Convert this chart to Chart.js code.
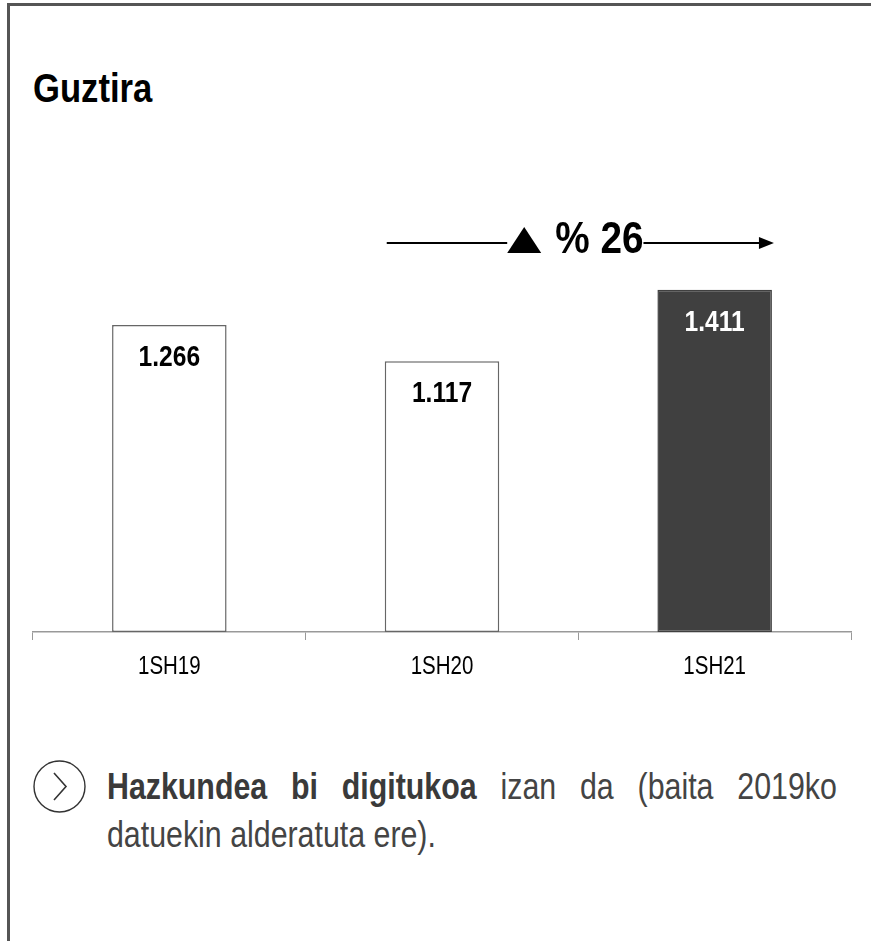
<!DOCTYPE html>
<html>
<head>
<meta charset="utf-8">
<script src="https://cdn.jsdelivr.net/npm/chart.js@4.4.1/dist/chart.umd.min.js"></script>
<style>
  body { margin: 0; width: 871px; height: 941px; background: #fff; overflow: hidden; position: relative; font-family: "Liberation Sans", Arial, sans-serif; }
  #frame { position: absolute; left: 7px; top: 3px; width: 900px; height: 1000px; border-left: 3px solid #555; border-top: 3px solid #555; }
  #titulo { position: absolute; left: 33px; top: 64px; font-size: 41px; line-height: 48px; font-weight: bold; color: #000; transform: scaleX(0.845); transform-origin: 0 0; white-space: nowrap; }
  #grafico-box { position: absolute; left: 0; top: 180px; width: 871px; height: 520px; }
  #nota { position: absolute; left: 107px; top: 763px; width: 890px; font-size: 37px; line-height: 48px; color: #444; text-align: justify; transform: scaleX(0.82); transform-origin: 0 0; }
  #nota b { color: #3a3a3a; }
  #bala { position: absolute; left: 33px; top: 760px; }
</style>
</head>
<body>
<div id="frame"></div>
<div id="titulo">Guztira</div>
<div id="grafico-box"><canvas id="grafico"></canvas></div>
<svg id="bala" width="54" height="54" viewBox="0 0 54 54">
  <circle cx="26.5" cy="26.5" r="25.5" fill="none" stroke="#333" stroke-width="1.4"/>
  <polyline points="21,13 33,26.5 21,40" fill="none" stroke="#333" stroke-width="1.6"/>
</svg>
<div id="nota"><b>Hazkundea bi digitukoa</b> izan da (baita 2019ko datuekin alderatuta ere).</div>

<script>
// datos
const periodos = ["1SH19", "1SH20", "1SH21"];
const valores = [1266, 1117, 1411];
const etiquetas = ["1.266", "1.117", "1.411"];
const crecimiento = "% 26";

const fuente = '"Liberation Sans", Arial, sans-serif';
const estrecho = 0.82; // simula Arial Narrow

function textoEstrecho(ctx, txt, x, y, escala) {
  ctx.save();
  ctx.translate(x, y);
  ctx.scale(escala, 1);
  ctx.fillText(txt, 0, 0);
  ctx.restore();
}

// etiquetas del eje, dentro de las barras y flecha de crecimiento
const extras = {
  id: "extras",
  afterDraw(chart) {
    const ctx = chart.ctx;
    const meta = chart.getDatasetMeta(0);
    const xs = chart.scales.x;
    ctx.save();

    // etiquetas del eje x
    ctx.font = "25px " + fuente;
    ctx.textAlign = "center";
    ctx.textBaseline = "middle";
    ctx.fillStyle = "#000";
    periodos.forEach((p, i) => {
      textoEstrecho(ctx, p, xs.getPixelForValue(i), chart.chartArea.bottom + 35, estrecho);
    });

    // valores dentro de las barras
    ctx.font = "bold 30px " + fuente;
    meta.data.forEach((bar, i) => {
      ctx.fillStyle = i === 2 ? "#fff" : "#000";
      textoEstrecho(ctx, etiquetas[i], bar.x, bar.y + 33, estrecho);
    });

    // flecha
    const b1 = meta.data[1];
    const b2 = meta.data[2];
    const x0 = b1.x - b1.width / 2 + 2;
    const x1 = b2.x + b2.width / 2 + 2;
    const y = chart.chartArea.top - 1;
    const base = y + 10;
    ctx.font = "bold 44px " + fuente;
    const escalaFlecha = 0.88;
    const tri = 34;
    const gap = 14;
    const anchoTexto = ctx.measureText(crecimiento).width * escalaFlecha;
    const total = tri + gap + anchoTexto;
    const inicio = (x0 + x1) / 2 - total / 2 - 5;

    ctx.strokeStyle = "#000";
    ctx.lineWidth = 2;
    ctx.beginPath();
    ctx.moveTo(x0, y);
    ctx.lineTo(inicio, y);
    ctx.moveTo(inicio + total, y);
    ctx.lineTo(x1 - 12, y);
    ctx.stroke();
    ctx.fillStyle = "#000";
    ctx.beginPath();
    ctx.moveTo(x1, y);
    ctx.lineTo(x1 - 15, y - 6);
    ctx.lineTo(x1 - 15, y + 6);
    ctx.closePath();
    ctx.fill();

    // triangulo
    ctx.beginPath();
    ctx.moveTo(inicio, base);
    ctx.lineTo(inicio + tri, base);
    ctx.lineTo(inicio + tri / 2, base - 26);
    ctx.closePath();
    ctx.fill();

    ctx.textAlign = "left";
    ctx.textBaseline = "alphabetic";
    textoEstrecho(ctx, crecimiento, inicio + tri + gap, base, escalaFlecha);
    ctx.restore();
  },
};

new Chart(document.getElementById("grafico").getContext("2d"), {
  type: "bar",
  data: {
    labels: periodos,
    datasets: [
      {
        data: valores,
        backgroundColor: ["#fff", "#fff", "#404040"],
        borderColor: ["#666", "#666", "#404040"],
        borderWidth: 1.5,
        borderSkipped: false,
        barPercentage: 0.42,
        categoryPercentage: 1,
      },
    ],
  },
  options: {
    responsive: true,
    maintainAspectRatio: false,
    animation: false,
    events: [],
    layout: { padding: { left: 33, right: 20, top: 64, bottom: 0 } },
    plugins: {
      legend: { display: false },
      tooltip: { enabled: false },
    },
    scales: {
      x: {
        offset: true,
        afterFit: (scale) => { scale.height = 68; },
        grid: { offset: true, drawOnChartArea: false, tickLength: 8, color: "#999" },
        border: { color: "#999", width: 1.5 },
        ticks: { color: "rgba(0,0,0,0)", font: { size: 12 } },
      },
      y: {
        display: false,
        min: 0,
        max: 1600,
      },
    },
  },
  plugins: [extras],
});
</script>
</body>
</html>
